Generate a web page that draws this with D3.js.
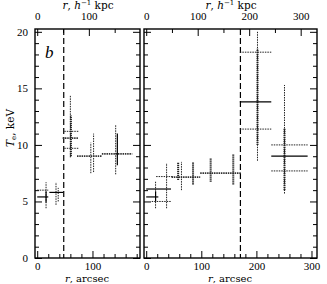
<!DOCTYPE html>
<html>
<head>
<meta charset="utf-8">
<script src="https://cdn.jsdelivr.net/npm/d3@7"></script>
<style>
body { margin: 0; background: #fff; }
svg { display: block; }
</style>
</head>
<body>
<svg id="chart" width="327" height="284"></svg>
<script>
// ticks
var yMajor = [0, 5, 10, 15, 20];
var arcMajorLeft = [0, 100];
var arcMajorRight = [0, 100, 200, 300];
var kpcMajorLeft = [0, 100];
var kpcMajorRight = [0, 100, 200, 300];
var kpcPerArcsec = 1.07;
var edges = [48, 171]; // dashed lines, arcsec

// left panel (r in arcsec, T in keV)
var leftHSolid = [{r0: 0, r1: 20, t: 5.4}, {r0: 22, r1: 47, t: 5.8}];
var leftHDot = [{r0: 0, r1: 20, t: 6.0}, {r0: 49, r1: 76, t: 11.2}, {r0: 49, r1: 76, t: 9.7}];
var leftHThick = [{r0: 46, r1: 74, t: 10.6}, {r0: 72, r1: 117, t: 9.0}, {r0: 117, r1: 172, t: 9.2}];
var leftVSolid = [{r: 16, lo: 4.9, hi: 5.9}, {r: 145, lo: 8.2, hi: 11.0}];
var leftVDot = [{r: 16, lo: 4.4, hi: 6.7}, {r: 34, lo: 4.7, hi: 6.7}, {r: 38, lo: 5.0, hi: 6.2},
  {r: 60, lo: 8.9, hi: 14.4}, {r: 97, lo: 7.5, hi: 10.2}, {r: 102, lo: 7.6, hi: 11.0}, {r: 142, lo: 7.4, hi: 11.8}];
var leftVThick = [{r: 61, lo: 9.0, hi: 12.6}];

// right panel
var rightHSolid = [{r0: 0, r1: 22, t: 5.4}, {r0: 0, r1: 45, t: 6.1}, {r0: 170, r1: 227, t: 13.8}, {r0: 227, r1: 293, t: 9.0}];
var rightHDot = [{r0: 10, r1: 46, t: 5.0}, {r0: 18, r1: 50, t: 7.2}, {r0: 170, r1: 227, t: 18.2},
  {r0: 170, r1: 227, t: 11.4}, {r0: 227, r1: 293, t: 10.0}, {r0: 227, r1: 293, t: 7.7}];
var rightHThick = [{r0: 46, r1: 98, t: 7.15}, {r0: 98, r1: 172, t: 7.5}];
var rightVSolid = [{r: 17, lo: 5.0, hi: 5.9}];
var rightVDot = [{r: 17, lo: 4.4, hi: 6.75}, {r: 37, lo: 4.4, hi: 8.4}, {r: 64, lo: 6.0, hi: 8.5},
  {r: 202, lo: 8.6, hi: 20.0}, {r: 251, lo: 5.7, hi: 15.3}];
var rightVThick = [{r: 58, lo: 6.9, hi: 8.5}, {r: 85, lo: 6.5, hi: 8.5}, {r: 117, lo: 6.75, hi: 8.8},
  {r: 158, lo: 6.5, hi: 9.2}, {r: 202, lo: 10.0, hi: 18.5}, {r: 251, lo: 6.0, hi: 11.5}];

var frameTop = 29, frameBot = 258;
var tickFont = "'Liberation Serif', serif";
var titleFont = "'DejaVu Serif', serif";

var panels = [
  {x0: 35, x1: 140, dom: [-4, 186], arc: arcMajorLeft, kpc: kpcMajorLeft, edge: edges[0], labels: true, cx: 87,
    hs: leftHSolid, hd: leftHDot, ht: leftHThick, vs: leftVSolid, vd: leftVDot, vt: leftVThick},
  {x0: 144, x1: 317, dom: [-4, 310], arc: arcMajorRight, kpc: kpcMajorRight, edge: edges[1], labels: false, cx: 230,
    hs: rightHSolid, hd: rightHDot, ht: rightHThick, vs: rightVSolid, vd: rightVDot, vt: rightVThick}
];

var svg = d3.select("#chart");
var y = d3.scaleLinear().domain([0, 20.25]).range([frameBot, frameTop]);
var yMinor = d3.range(0, 21, 1).filter(d => d % 5 != 0);

function ax(g, axis, size, fmt, pad) {
  g.call(axis.tickSize(size).tickPadding(pad || 3).tickFormat(fmt || ""));
  g.select(".domain").remove();
  g.selectAll("line").attr("stroke", "#000").attr("stroke-width", 1);
  g.selectAll("text").attr("fill", "#000").attr("font-family", tickFont).attr("font-size", 11);
}

panels.forEach(p => {
  var x = d3.scaleLinear().domain(p.dom).range([p.x0, p.x1]);
  var xk = d3.scaleLinear().domain(p.dom.map(d => d * kpcPerArcsec)).range([p.x0, p.x1]);
  var arcMinor = d3.range(20, p.dom[1], 20).filter(d => d % 100 != 0);
  var kpcMinor = d3.range(50, p.dom[1] * kpcPerArcsec, 50).filter(d => d % 100 != 0);
  var g = svg.append("g");

  // ticks
  ax(g.append("g").attr("transform", `translate(0,${frameBot})`), d3.axisBottom(x).tickValues(arcMinor), -4);
  ax(g.append("g").attr("transform", `translate(0,${frameBot})`), d3.axisBottom(x).tickValues(p.arc), -7, d3.format("d"), 4);
  ax(g.append("g").attr("transform", `translate(0,${frameTop})`), d3.axisTop(xk).tickValues(kpcMinor), -4);
  ax(g.append("g").attr("transform", `translate(0,${frameTop})`), d3.axisTop(xk).tickValues(p.kpc), -7, d3.format("d"), 9);
  ax(g.append("g").attr("transform", `translate(${p.x0},0)`), d3.axisLeft(y).tickValues(yMinor), -4);
  ax(g.append("g").attr("transform", `translate(${p.x0},0)`), d3.axisLeft(y).tickValues(yMajor), -7, p.labels ? d3.format("d") : "", 7);
  ax(g.append("g").attr("transform", `translate(${p.x1},0)`), d3.axisRight(y).tickValues(yMinor), -4);
  ax(g.append("g").attr("transform", `translate(${p.x1},0)`), d3.axisRight(y).tickValues(yMajor), -7);

  g.append("rect")
    .attr("x", p.x0).attr("y", frameTop)
    .attr("width", p.x1 - p.x0).attr("height", frameBot - frameTop)
    .attr("fill", "none").attr("stroke", "#000").attr("stroke-width", 1.4);

  // dashed edge
  g.append("line")
    .attr("x1", x(p.edge)).attr("x2", x(p.edge))
    .attr("y1", frameTop).attr("y2", frameBot)
    .attr("stroke", "#000").attr("stroke-width", 1.2)
    .attr("stroke-dasharray", "6,3");

  function hlines(data, w, dash, col) {
    g.append("g").selectAll("line").data(data).enter().append("line")
      .attr("x1", d => x(d.r0)).attr("x2", d => x(d.r1))
      .attr("y1", d => y(d.t)).attr("y2", d => y(d.t))
      .attr("stroke", col).attr("stroke-width", w)
      .attr("stroke-dasharray", dash);
  }
  function vlines(data, w, dash, col) {
    g.append("g").selectAll("line").data(data).enter().append("line")
      .attr("x1", d => x(d.r)).attr("x2", d => x(d.r))
      .attr("y1", d => y(d.lo)).attr("y2", d => y(d.hi))
      .attr("stroke", col).attr("stroke-width", w)
      .attr("stroke-dasharray", dash);
  }

  hlines(p.hd, 1, "1.5,1", "#222");
  vlines(p.vd, 1, "1.5,1", "#222");
  hlines(p.ht, 1.8, "1.5,0.8", "#333");
  vlines(p.vt, 2, "1.2,0.8", "#222");
  hlines(p.hs, 1.2, null, "#000");
  vlines(p.vs, 1.2, null, "#000");

  // titles
  var tt = svg.append("text").attr("x", p.cx + 1).attr("y", 9)
    .attr("text-anchor", "middle").attr("font-family", titleFont).attr("font-size", 10.5);
  tt.append("tspan").attr("font-style", "italic").text("r");
  tt.append("tspan").text(", ");
  tt.append("tspan").attr("font-style", "italic").text("h");
  tt.append("tspan").attr("font-size", 7).attr("dy", -4).text("−1");
  tt.append("tspan").attr("dy", 4).text(" kpc");

  var bt = svg.append("text").attr("x", p.cx).attr("y", 282)
    .attr("text-anchor", "middle").attr("font-family", titleFont).attr("font-size", 10);
  bt.append("tspan").attr("font-style", "italic").text("r");
  bt.append("tspan").text(", arcsec");
});

// y label
var yl = svg.append("text")
  .attr("transform", "translate(14,128) rotate(-90)")
  .attr("text-anchor", "middle").attr("font-family", titleFont).attr("font-size", 10.5);
yl.append("tspan").attr("font-style", "italic").text("T");
yl.append("tspan").attr("font-size", 7).attr("dy", 2).text("e");
yl.append("tspan").attr("dy", -2).text(", keV");

// panel letter
svg.append("text").attr("x", 45).attr("y", 58)
  .attr("font-family", "'Liberation Serif', serif").attr("font-style", "italic")
  .attr("font-size", 17).text("b");
</script>
</body>
</html>
